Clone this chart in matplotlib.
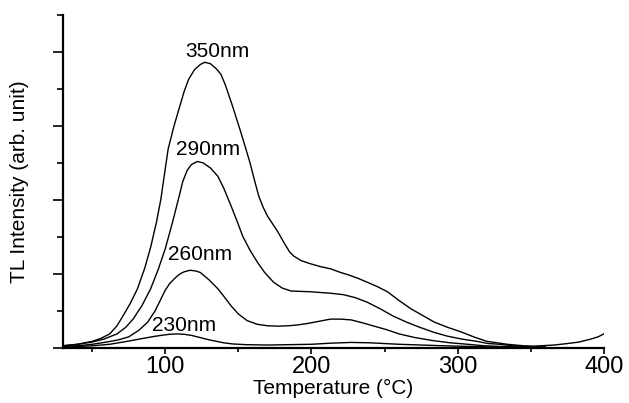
import matplotlib
matplotlib.use('Agg')
import matplotlib.pyplot as plt
from matplotlib.ticker import MultipleLocator, NullFormatter

# TL glow curves (temperature in C, intensity in arb. units)
t350 = [30, 40, 50, 56, 62, 67, 71, 76, 81, 86, 90, 94, 97, 100, 102, 106, 110, 113, 116, 120,
        124, 127, 131, 135, 138, 141, 146, 151, 155, 158, 161, 164, 167, 170, 174, 177, 181, 185, 188, 193,
        199, 206, 213, 220, 225, 232, 238, 245, 252, 260, 268, 276, 284, 293, 302, 311, 320, 327, 334, 345,
        352, 357, 366, 375, 383, 391, 396, 400]
v350 = [0.03, 0.05, 0.09, 0.13, 0.19, 0.30, 0.43, 0.60, 0.80, 1.08, 1.36, 1.70, 2.01, 2.42, 2.69, 3.0, 3.27, 3.47, 3.63, 3.76,
        3.83, 3.86, 3.84, 3.77, 3.70, 3.56, 3.27, 2.96, 2.70, 2.50, 2.27, 2.05, 1.90, 1.78, 1.66, 1.57, 1.43, 1.30, 1.24, 1.18,
        1.14, 1.10, 1.07, 1.02, 0.99, 0.94, 0.89, 0.83, 0.76, 0.64, 0.53, 0.44, 0.35, 0.28, 0.22, 0.15, 0.09, 0.07, 0.05, 0.03,
        0.025, 0.03, 0.04, 0.06, 0.08, 0.12, 0.15, 0.19]

t290 = [30, 40, 50, 58, 67, 73, 78, 84, 90, 95, 100, 105, 109, 112, 115, 118, 122, 126, 131, 136,
        140, 145, 149, 153, 158, 163, 168, 174, 180, 186, 192, 199, 206, 213, 222, 230, 238, 247, 256, 265,
        274, 284, 293, 303, 313, 321, 329, 337, 345, 360]
v290 = [0.03, 0.05, 0.08, 0.12, 0.19, 0.28, 0.39, 0.57, 0.80, 1.05, 1.34, 1.70, 2.01, 2.25, 2.40, 2.48, 2.52, 2.50, 2.43, 2.32,
        2.16, 1.92, 1.72, 1.51, 1.32, 1.16, 1.02, 0.89, 0.81, 0.77, 0.765, 0.76, 0.75, 0.74, 0.72, 0.68, 0.62, 0.53, 0.43, 0.35,
        0.28, 0.21, 0.16, 0.12, 0.09, 0.06, 0.05, 0.03, 0.02, 0.01]

t260 = [30, 40, 50, 60, 68, 75, 82, 88, 93, 97, 100, 103, 107, 110, 113, 117, 121, 124, 130, 136,
        140, 145, 150, 156, 163, 170, 177, 184, 190, 197, 205, 213, 220, 227, 235, 242, 251, 260, 271, 283,
        295, 307, 318, 330, 345, 360]
v260 = [0.02, 0.03, 0.05, 0.08, 0.11, 0.15, 0.24, 0.35, 0.50, 0.66, 0.78, 0.87, 0.95, 1.0, 1.03, 1.05, 1.04, 1.02, 0.92, 0.80,
        0.70, 0.57, 0.46, 0.37, 0.32, 0.30, 0.295, 0.30, 0.31, 0.33, 0.36, 0.39, 0.39, 0.38, 0.34, 0.30, 0.25, 0.19, 0.14, 0.10,
        0.07, 0.05, 0.03, 0.02, 0.015, 0.01]

t230 = [30, 40, 50, 62, 74, 85, 92, 97, 103, 108, 113, 118, 124, 130, 135, 140, 146, 155, 170, 185,
        200, 213, 227, 240, 260, 275, 290, 310, 330, 360]
v230 = [0.01, 0.02, 0.03, 0.05, 0.09, 0.13, 0.155, 0.17, 0.185, 0.19, 0.185, 0.17, 0.14, 0.11, 0.09, 0.07, 0.055, 0.045, 0.04, 0.045,
        0.05, 0.065, 0.075, 0.07, 0.05, 0.04, 0.03, 0.02, 0.01, 0.01]

labels = ['350nm', '290nm', '260nm', '230nm']
label_x = [135.5, 129.5, 124, 113]
label_y = [4.01, 2.68, 1.26, 0.31]

plt.rcParams['font.family'] = ['Liberation Sans', 'DejaVu Sans']

fig = plt.figure(figsize=(6.29, 4.03), dpi=100)
ax = fig.add_axes([0.100, 0.1365, 0.860, 0.8265])

for t, v in [(t350, v350), (t290, v290), (t260, v260), (t230, v230)]:
    ax.plot(t, v, color='black', lw=1.0)

for s, x, y in zip(labels, label_x, label_y):
    ax.text(x, y, s, ha='center', va='center', fontsize=15)

ax.set_xlim(30, 400)
ax.set_ylim(0, 4.5)
ax.spines['top'].set_visible(False)
ax.spines['right'].set_visible(False)
for side in ['left', 'bottom']:
    ax.spines[side].set_linewidth(1.6)

ax.xaxis.set_major_locator(MultipleLocator(100))
ax.xaxis.set_minor_locator(MultipleLocator(50))
ax.yaxis.set_major_locator(MultipleLocator(1))
ax.yaxis.set_minor_locator(MultipleLocator(0.5))
ax.yaxis.set_major_formatter(NullFormatter())

ax.tick_params(axis='x', which='major', length=4.5, width=1.2, labelsize=17, pad=1.5)
ax.tick_params(axis='x', which='minor', length=3, width=1.2)
ax.tick_params(axis='y', which='major', length=7, width=1.2)
ax.tick_params(axis='y', which='minor', length=4, width=1.2)

ax.set_xlabel('Temperature (\u00b0C)', fontsize=15, labelpad=0.5)
ax.set_ylabel('TL Intensity (arb. unit)', fontsize=15, labelpad=14)

fig.savefig('out.png', dpi=100)
